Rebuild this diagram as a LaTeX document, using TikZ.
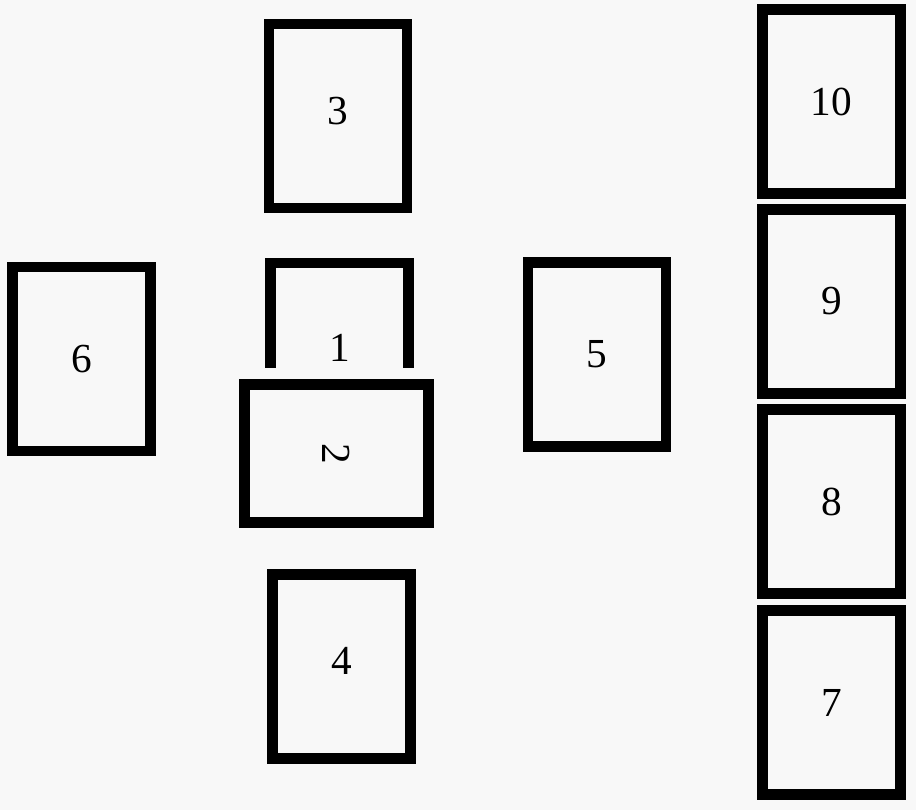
\documentclass[tikz,border=0pt]{standalone}
\usepackage{fontspec}
\setmainfont{Liberation Serif}
\definecolor{paper}{RGB}{248,248,248}

\begin{document}
\begin{tikzpicture}[x=0.02cm,y=-0.02cm,line join=miter,
  card/.style={draw=black,fill=paper,line width=0.21cm,minimum width=2.76cm,
    minimum height=3.68cm,inner sep=0pt,font=\fontsize{23.5}{28}\selectfont},
  crossing/.style={card,rotate=-90,preaction={draw=paper,line width=0.68cm}}]
  % 背景
  \fill[paper] (0,0) rectangle (916,810);
  \useasboundingbox (0,0) rectangle (916,810);
  % 十字
  \node[card,text depth=0.22cm] (c3) at (338,116) {3};
  \node[card,text depth=0.28cm] (c1) at (339.5,355) {1};
  \node[crossing] (c2) at (336.5,453.5) {2};
  \node[card,text depth=0.24cm] (c4) at (341.5,666.5) {4};
  \node[card] (c6) at (81.5,359) {6};
  \node[card] (c5) at (597,354.5) {5};
  % 右列
  \node[card] (c10) at (831.5,101.5) {10};
  \node[card] (c9) at (831.5,301.5) {9};
  \node[card] (c8) at (831.5,501.5) {8};
  \node[card] (c7) at (831.5,702.5) {7};
\end{tikzpicture}
\end{document}
